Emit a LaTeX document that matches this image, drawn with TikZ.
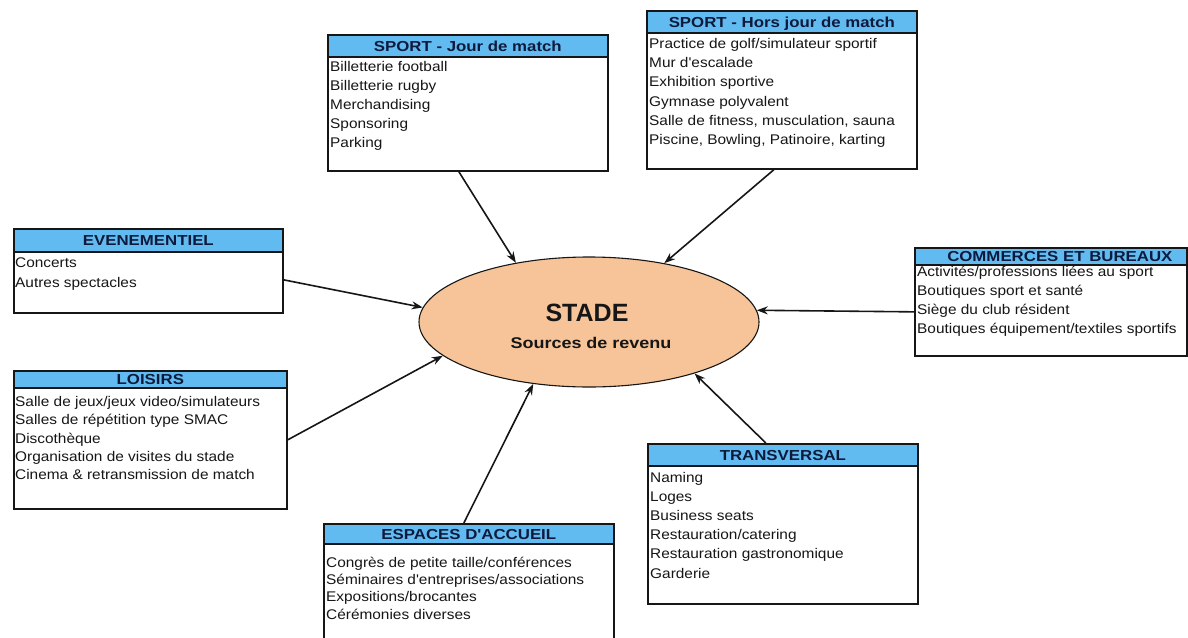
\documentclass[tikz,border=0pt]{standalone}
\usepackage{fontspec}
\setmainfont{Liberation Sans}[FakeStretch=1.1, Ligatures=TeXOff]
\newfontfamily\hdrfont{Liberation Sans}[FakeStretch=1.16, Ligatures=TeXOff]
\newfontfamily\plainfont{Liberation Sans}[Ligatures=TeXOff]
\usetikzlibrary{shapes.geometric,arrows.meta}
\definecolor{hdrblue}{RGB}{98,187,240}
\definecolor{peach}{RGB}{246,196,152}
\definecolor{navy}{RGB}{14,26,60}
\definecolor{ink}{RGB}{22,22,22}
\tikzset{
  box/.style={draw=ink, line width=1.7pt, rectangle, anchor=north west, inner sep=0pt, fill=white},
  head/.style={draw=ink, line width=1.7pt, rectangle, anchor=north west, inner sep=0pt, fill=hdrblue, text=navy,
    font=\hdrfont\bfseries\fontsize{14.5}{15}\selectfont, text height=10.5pt, text depth=0pt},
  item/.style={anchor=base west, inner sep=0pt, text=ink, font=\fontsize{14}{16}\selectfont},
  arr/.style={draw=ink, line width=1.6pt, -{Stealth[length=11pt,width=8pt]}},
}
\begin{document}
\begin{tikzpicture}[x=1pt,y=-1pt]
\useasboundingbox (0,0) rectangle (1188,637);

% central ellipse
\node[draw=ink, ellipse, line width=1.1pt, fill=peach, minimum width=340pt, minimum height=130pt, inner sep=0pt] (stade) at (589,322) {};
\node[anchor=base, inner sep=0pt, text=ink, font=\plainfont\bfseries\fontsize{25}{25}\selectfont] (stadet) at (587,321) {STADE};
\node[anchor=base, inner sep=0pt, text=ink, font=\hdrfont\bfseries\fontsize{15.5}{16}\selectfont] (stades) at (591,348) {Sources de revenu};

% SPORT - Jour de match
\node[box, minimum width=280pt, minimum height=136pt] (jour) at (327,34) {};
\node[head, minimum width=280pt, minimum height=22pt] (jourh) at (327,34) {SPORT - Jour de match};
\foreach \t [count=\i from 0] in {Billetterie football, Billetterie rugby, Merchandising, Sponsoring, Parking}
  \node[item] (jour-\i) at (330, {71.7+19*\i}) {\t};

% SPORT - Hors jour de match
\node[box, minimum width=270pt, minimum height=158pt] (hors) at (646,10) {};
\node[head, minimum width=270pt, minimum height=22pt] (horsh) at (646,10) {SPORT - Hors jour de match};
\foreach \t [count=\i from 0] in {Practice de golf/simulateur sportif, Mur d'escalade, Exhibition sportive, Gymnase polyvalent, {Salle de fitness, musculation, sauna}, {Piscine, Bowling, Patinoire, karting}}
  \node[item] (hors-\i) at (649, {48.5+19.2*\i}) {\t};

% EVENEMENTIEL
\node[box, minimum width=269pt, minimum height=84pt] (even) at (13,228) {};
\node[head, minimum width=269pt, minimum height=23pt] (evenh) at (13,228) {EVENEMENTIEL};
\foreach \t [count=\i from 0] in {Concerts, Autres spectacles}
  \node[item] (even-\i) at (15, {267+20*\i}) {\t};

% LOISIRS
\node[box, minimum width=273pt, minimum height=138pt] (lois) at (13,370) {};
\node[head, minimum width=273pt, minimum height=17pt] (loish) at (13,370) {LOISIRS};
\foreach \t [count=\i from 0] in {Salle de jeux/jeux video/simulateurs, Salles de répétition type SMAC, Discothèque, Organisation de visites du stade, Cinema \& retransmission de match}
  \node[item] (lois-\i) at (15, {406.5+18.3*\i}) {\t};

% COMMERCES ET BUREAUX
\node[box, minimum width=272pt, minimum height=108pt] (comm) at (914,247) {};
\node[head, minimum width=272pt, minimum height=17pt] (commh) at (914,247) {\hspace*{18pt}COMMERCES ET BUREAUX};
\foreach \t [count=\i from 0] in {Activités/professions liées au sport, Boutiques sport et santé, Siège du club résident, Boutiques équipement/textiles sportifs}
  \node[item] (comm-\i) at (917, {276+19*\i}) {\t};

% TRANSVERSAL
\node[box, minimum width=270pt, minimum height=160pt] (trans) at (647,443) {};
\node[head, minimum width=270pt, minimum height=22pt] (transh) at (647,443) {TRANSVERSAL};
\foreach \t [count=\i from 0] in {Naming, Loges, Business seats, Restauration/catering, Restauration gastronomique, Garderie}
  \node[item] (trans-\i) at (650, {482.5+19.1*\i}) {\t};

% ESPACES D'ACCUEIL
\node[box, minimum width=290pt, minimum height=120pt] (esp) at (323,523) {};
\node[head, minimum width=290pt, minimum height=20pt] (esph) at (323,523) {ESPACES D'ACCUEIL};
\foreach \t [count=\i from 0] in {Congrès de petite taille/conférences, Séminaires d'entreprises/associations, Expositions/brocantes, Cérémonies diverses}
  \node[item] (esp-\i) at (326, {567+17.4*\i}) {\t};

% connectors
\draw[arr] ([xshift=-9pt]jour.south) -- (stade.141);
\draw[arr] ([xshift=-8pt]hors.south) -- (stade.38);
\draw[arr] ([yshift=-9pt]even.east) -- (stade.175);
\draw[arr] (lois.east) -- (stade.193);
\draw[arr] ([yshift=-10pt]comm.west) -- (stade.4);
\draw[arr] ([xshift=-17pt]trans.north) -- (stade.334);
\draw[arr] ([xshift=-5pt]esp.north) -- (stade.228);
\end{tikzpicture}
\end{document}
